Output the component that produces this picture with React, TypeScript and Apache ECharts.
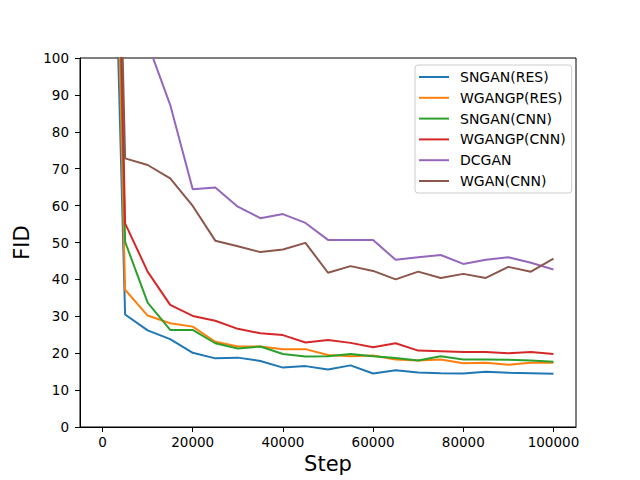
import React, { useEffect, useRef } from "react";
import * as echarts from "echarts";

const steps = [0, 5000, 10000, 15000, 20000, 25000, 30000, 35000, 40000, 45000, 50000, 55000, 60000, 65000, 70000, 75000, 80000, 85000, 90000, 95000, 100000];
const sngaRes = [260, 30.5, 26.2, 23.8, 20.1, 18.6, 18.8, 17.9, 16.1, 16.5, 15.6, 16.7, 14.5, 15.4, 14.8, 14.6, 14.5, 15.0, 14.7, 14.6, 14.4];
const wgangpRes = [300, 37.2, 30.2, 28.1, 27.2, 23.1, 21.8, 21.8, 21.1, 21.1, 19.5, 19.2, 19.4, 18.3, 18.0, 18.3, 17.3, 17.4, 16.9, 17.4, 17.4];
const sngaCnn = [330, 50.2, 33.7, 26.3, 26.3, 22.7, 21.3, 21.8, 19.8, 19.1, 19.2, 19.8, 19.2, 18.7, 18.0, 19.2, 18.3, 18.3, 18.2, 18.0, 17.7];
const wgangpCnn = [340, 55.2, 42.1, 33.1, 30.1, 28.8, 26.6, 25.4, 24.9, 22.9, 23.6, 22.8, 21.6, 22.7, 20.7, 20.5, 20.3, 20.3, 20.0, 20.3, 19.8];
const dcgan = [380, 200, 104, 87.3, 64.4, 64.9, 59.7, 56.6, 57.7, 55.3, 50.7, 50.7, 50.7, 45.3, 46.0, 46.6, 44.2, 45.3, 46.0, 44.5, 42.7];
const wganCnn = [330, 72.8, 71.0, 67.4, 59.9, 50.5, 49.0, 47.4, 48.1, 49.9, 41.8, 43.6, 42.3, 40.0, 42.1, 40.4, 41.5, 40.4, 43.4, 42.1, 45.6];

const seriesNames = ["SNGAN(RES)", "WGANGP(RES)", "SNGAN(CNN)", "WGANGP(CNN)", "DCGAN", "WGAN(CNN)"];
const seriesValues = [sngaRes, wgangpRes, sngaCnn, wgangpCnn, dcgan, wganCnn];
const colors = ["#1f77b4", "#ff7f0e", "#2ca02c", "#d62728", "#9467bd", "#8c564b"];
const xTicks = [0, 20000, 40000, 60000, 80000, 100000];

const FONT = "DejaVu Sans";

export default function App() {
  const ref = useRef<HTMLDivElement>(null);
  useEffect(() => {
    if (!ref.current) return;
    const chart = echarts.init(ref.current, undefined, { renderer: "svg" });
    chart.setOption({
      animation: false,
      backgroundColor: "#ffffff",
      textStyle: { fontFamily: FONT },
      grid: {
        left: 80,
        top: 58,
        width: 496,
        height: 369,
        show: true,
        borderColor: "#000",
        borderWidth: 1,
        backgroundColor: "transparent",
      },
      legend: {
        orient: "vertical",
        left: 415,
        top: 65,
        padding: [5, 6, 5, 4],
        itemWidth: 30,
        itemHeight: 2,
        itemGap: 6.8,
        icon: "rect",
        borderColor: "#cccccc",
        borderWidth: 1,
        borderRadius: 3,
        backgroundColor: "rgba(255,255,255,0.8)",
        textStyle: { fontFamily: FONT, fontSize: 14, color: "#000", padding: [0, 0, 0, 6] },
        data: seriesNames,
      },
      xAxis: {
        type: "value",
        min: -5000,
        max: 105000,
        name: "Step",
        nameLocation: "middle",
        nameGap: 26,
        nameTextStyle: { fontFamily: FONT, fontSize: 21, color: "#000" },
        axisLine: { show: true, onZero: false, lineStyle: { color: "#000", width: 1 } },
        axisTick: { show: true, inside: false, length: 5, customValues: xTicks, lineStyle: { color: "#000" } },
        axisLabel: {
          customValues: xTicks,
          fontFamily: FONT,
          fontSize: 13.5,
          color: "#000",
          margin: 8,
          formatter: (v: number) => String(v),
        },
        splitLine: { show: false },
      },
      yAxis: {
        type: "value",
        min: 0,
        max: 100,
        interval: 10,
        name: "FID",
        nameLocation: "middle",
        nameGap: 43,
        nameRotate: 90,
        nameTextStyle: { fontFamily: FONT, fontSize: 21, color: "#000" },
        axisLine: { show: true, onZero: false, lineStyle: { color: "#000", width: 1 } },
        axisTick: { show: true, inside: false, length: 5, lineStyle: { color: "#000" } },
        axisLabel: { fontFamily: FONT, fontSize: 13.5, color: "#000", margin: 11 },
        splitLine: { show: false },
      },
      series: seriesNames.map((name, i) => ({
        name,
        type: "line",
        data: steps.map((s, j) => [s, seriesValues[i][j]]),
        showSymbol: false,
        symbol: "none",
        clip: true,
        color: colors[i],
        lineStyle: { color: colors[i], width: 2 },
      })),
    });
    return () => chart.dispose();
  }, []);
  return (
    <div
      ref={ref}
      style={{ position: "fixed", left: 0, top: 0, width: 640, height: 480 }}
    />
  );
}
